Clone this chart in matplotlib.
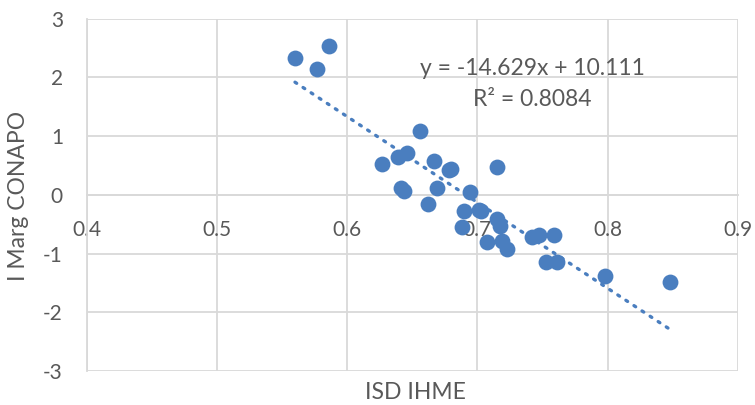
import matplotlib
matplotlib.use('Agg')
import matplotlib.pyplot as plt
import numpy as np

plt.rcParams['font.family'] = ['Lato', 'DejaVu Sans']

# ISD IHME vs marginalization index (CONAPO), one point per state
isd_ihme = [0.560, 0.586, 0.577, 0.656, 0.627, 0.639, 0.646, 0.667, 0.678, 0.680,
            0.715, 0.641, 0.644, 0.669, 0.694, 0.662, 0.690, 0.7015, 0.703, 0.688,
            0.715, 0.717, 0.707, 0.719, 0.723, 0.742, 0.7475, 0.759, 0.753, 0.761,
            0.798, 0.848]
marg_conapo = [2.33, 2.54, 2.15, 1.08, 0.53, 0.65, 0.72, 0.57, 0.43, 0.44,
               0.47, 0.11, 0.06, 0.12, 0.05, -0.16, -0.27, -0.26, -0.27, -0.55,
               -0.41, -0.53, -0.81, -0.78, -0.92, -0.72, -0.69, -0.68, -1.15, -1.15,
               -1.38, -1.49]

# linear trend reported on the chart
slope = -14.629
intercept = 10.111
r2 = 0.8084

x_ticks = [0.4, 0.5, 0.6, 0.7, 0.8, 0.9]
y_ticks = [-3, -2, -1, 0, 1, 2, 3]

blue = '#4a7ebf'
text_gray = '#595959'
grid_gray = '#d9d9d9'

fig = plt.figure(figsize=(7.55, 4.05), dpi=100)
ax = fig.add_axes([0.1146, 0.084, 0.8629, 0.8698])

ax.set_xlim(0.4, 0.9)
ax.set_ylim(-3, 3)
ax.set_xticks(x_ticks)
ax.set_yticks(y_ticks)
ax.set_xticklabels([f'{t:g}' for t in x_ticks])
ax.set_yticklabels([f'{t:g}' for t in y_ticks])

ax.grid(True, color=grid_gray, linewidth=1.3)
ax.set_axisbelow(True)

for side in ['top', 'right']:
    ax.spines[side].set_visible(False)
ax.spines['left'].set_color(grid_gray)
ax.spines['left'].set_linewidth(1.3)
ax.spines['bottom'].set_position(('data', 0))
ax.spines['bottom'].set_color(grid_gray)
ax.spines['bottom'].set_linewidth(1.3)

ax.tick_params(axis='both', length=0, labelsize=15, labelcolor=text_gray)
ax.tick_params(axis='x', pad=18)
ax.tick_params(axis='y', pad=17)

ax.scatter(isd_ihme, marg_conapo, s=130, color=blue, zorder=3, linewidths=0)

# dotted trendline over the range of the data
xs = np.array([min(isd_ihme), max(isd_ihme)])
ax.plot(xs, slope * xs + intercept, color=blue, linewidth=2.4,
        linestyle=(0, (0.6, 2.3)), dash_capstyle='round', zorder=4)

ax.text(0.7423, 2.16, f'y = {slope}x + {intercept}', fontsize=16.5,
        color=text_gray, ha='center', va='center')
ax.text(0.7423, 1.62, f'R² = {r2}', fontsize=16.5,
        color=text_gray, ha='center', va='center')

fig.text(0.55, 0.032, 'ISD IHME', fontsize=16.5, color=text_gray,
         ha='center', va='center')
fig.text(0.024, 0.515, 'I Marg CONAPO', fontsize=16.5, color=text_gray,
         ha='center', va='center', rotation=90)

fig.savefig('out.png', dpi=100)
